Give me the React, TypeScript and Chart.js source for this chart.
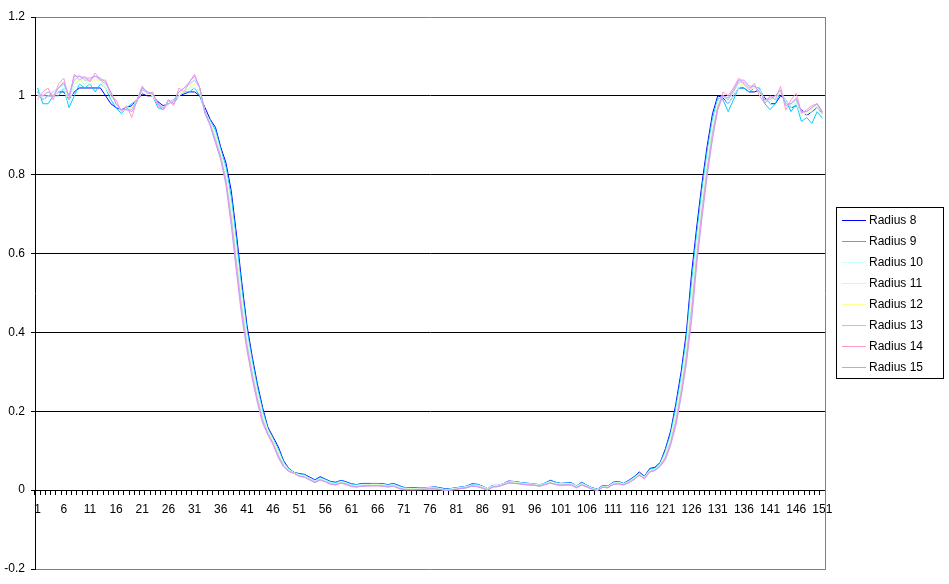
import React, { useEffect, useRef } from 'react';
import { Chart, registerables } from 'chart.js';

Chart.register(...registerables);

// Categories 1..151 (x axis), labelled every 5th
const categories: string[] = Array.from({ length: 151 }, (_, i) => String(i + 1));
const xLabelEvery = 5;

// Y axis ticks
const yMin = -0.2;
const yMax = 1.2;
const yStep = 0.2;

const seriesNames = ['Radius 8', 'Radius 9', 'Radius 10', 'Radius 11', 'Radius 12', 'Radius 13', 'Radius 14', 'Radius 15'];
const seriesColors = ['#0000FF', '#00CCFF', '#CCFFFF', '#CCFFCC', '#FFFF99', '#99CCFF', '#FF99CC', '#CC99FF'];

const radius8 = [
  1.01, 0.99, 1.00, 1.00, 1.01, 1.01, 0.99, 1.01, 1.02, 1.02,
  1.02, 1.02, 1.02, 1.00, 0.98, 0.97, 0.965, 0.97, 0.975, 0.99,
  1.005, 1.00, 1.00, 0.985, 0.975, 0.98, 0.99, 1.00, 1.005, 1.01,
  1.01, 1.00, 0.97, 0.94, 0.92, 0.87, 0.83, 0.76, 0.65, 0.53,
  0.42, 0.34, 0.27, 0.21, 0.16, 0.135, 0.11, 0.075, 0.055, 0.045,
  0.042, 0.04, 0.033, 0.026, 0.034, 0.028, 0.022, 0.02, 0.025, 0.021,
  0.016, 0.014, 0.017, 0.017, 0.017, 0.017, 0.016, 0.014, 0.017, 0.012,
  0.007, 0.006, 0.006, 0.006, 0.006, 0.007, 0.008, 0.006, 0.003, 0.004,
  0.006, 0.008, 0.01, 0.016, 0.015, 0.01, 0.004, 0.012, 0.012, 0.016,
  0.023, 0.022, 0.02, 0.018, 0.017, 0.015, 0.013, 0.018, 0.025, 0.02,
  0.017, 0.018, 0.019, 0.01, 0.02, 0.012, 0.006, 0.002, 0.012, 0.01,
  0.02, 0.022, 0.017, 0.025, 0.034, 0.046, 0.035, 0.055, 0.058, 0.07,
  0.105, 0.15, 0.22, 0.30, 0.40, 0.55, 0.67, 0.78, 0.875, 0.955,
  1.00, 0.995, 0.98, 1.00, 1.02, 1.02, 1.01, 1.01, 1.015, 0.995,
  0.98, 0.98, 1.00, 0.99, 0.97, 0.975, 0.965, 0.95, 0.96, 0.97,
  0.955,
];

const radius9 = [
  1.02, 0.98, 0.98, 1.00, 1.00, 1.02, 0.97, 1.00, 1.03, 1.02,
  1.03, 1.01, 1.03, 1.02, 0.99, 0.97, 0.955, 0.97, 0.98, 0.99,
  1.02, 1.01, 1.00, 0.97, 0.965, 0.99, 0.98, 1.00, 1.01, 1.01,
  1.02, 1.00, 0.96, 0.937, 0.913, 0.864, 0.82, 0.744, 0.632, 0.514,
  0.408, 0.33, 0.261, 0.203, 0.156, 0.131, 0.105, 0.072, 0.054, 0.045,
  0.041, 0.039, 0.031, 0.025, 0.032, 0.027, 0.021, 0.019, 0.024, 0.02,
  0.015, 0.014, 0.016, 0.016, 0.016, 0.016, 0.015, 0.013, 0.016, 0.011,
  0.007, 0.006, 0.005, 0.006, 0.006, 0.007, 0.008, 0.005, 0.002, 0.004,
  0.006, 0.008, 0.01, 0.015, 0.014, 0.01, 0.004, 0.012, 0.012, 0.016,
  0.022, 0.022, 0.02, 0.018, 0.017, 0.016, 0.014, 0.018, 0.024, 0.02,
  0.017, 0.018, 0.018, 0.011, 0.019, 0.012, 0.006, 0.002, 0.011, 0.01,
  0.019, 0.021, 0.017, 0.024, 0.033, 0.044, 0.034, 0.053, 0.056, 0.068,
  0.10, 0.143, 0.21, 0.288, 0.385, 0.528, 0.652, 0.764, 0.861, 0.943,
  0.993, 0.99, 0.96, 0.99, 1.02, 1.02, 1.01, 1.02, 1.02, 0.98,
  0.965, 0.98, 1.01, 0.99, 0.96, 0.98, 0.935, 0.945, 0.93, 0.96,
  0.943,
];

const radius10 = [
  1.01, 0.99, 1.00, 1.00, 1.01, 1.02, 0.98, 1.02, 1.03, 1.03,
  1.03, 1.03, 1.03, 1.02, 1.00, 0.98, 0.96, 0.97, 0.97, 0.99,
  1.01, 1.01, 1.00, 0.98, 0.97, 0.98, 0.99, 1.00, 1.01, 1.02,
  1.02, 1.01, 0.96, 0.934, 0.905, 0.858, 0.809, 0.727, 0.614, 0.497,
  0.396, 0.319, 0.252, 0.195, 0.153, 0.128, 0.10, 0.069, 0.052, 0.044,
  0.039, 0.037, 0.03, 0.023, 0.03, 0.025, 0.019, 0.017, 0.022, 0.018,
  0.013, 0.012, 0.014, 0.014, 0.015, 0.015, 0.014, 0.012, 0.014, 0.009,
  0.005, 0.004, 0.004, 0.005, 0.005, 0.006, 0.006, 0.004, 0.001, 0.003,
  0.005, 0.007, 0.009, 0.013, 0.013, 0.009, 0.004, 0.011, 0.012, 0.016,
  0.021, 0.021, 0.019, 0.017, 0.016, 0.015, 0.013, 0.017, 0.022, 0.018,
  0.016, 0.017, 0.017, 0.01, 0.017, 0.011, 0.005, 0.001, 0.01, 0.009,
  0.018, 0.02, 0.016, 0.022, 0.031, 0.042, 0.033, 0.05, 0.054, 0.066,
  0.095, 0.137, 0.199, 0.276, 0.37, 0.505, 0.634, 0.747, 0.847, 0.931,
  0.987, 1.00, 0.98, 1.00, 1.02, 1.03, 1.02, 1.02, 1.015, 0.99,
  0.98, 0.99, 1.01, 0.99, 0.97, 0.98, 0.95, 0.95, 0.95, 0.97,
  0.95,
];

const radius11 = [
  1.00, 1.00, 1.01, 1.00, 1.02, 1.03, 0.99, 1.03, 1.04, 1.03,
  1.04, 1.04, 1.04, 1.02, 1.00, 0.98, 0.965, 0.965, 0.97, 0.99,
  1.01, 1.01, 1.00, 0.98, 0.97, 0.98, 0.99, 1.00, 1.01, 1.02,
  1.03, 1.01, 0.96, 0.932, 0.90, 0.854, 0.802, 0.716, 0.602, 0.486,
  0.388, 0.312, 0.246, 0.19, 0.15, 0.125, 0.096, 0.067, 0.051, 0.044,
  0.038, 0.036, 0.029, 0.022, 0.029, 0.024, 0.018, 0.016, 0.021, 0.017,
  0.012, 0.011, 0.013, 0.013, 0.014, 0.014, 0.013, 0.011, 0.013, 0.008,
  0.004, 0.004, 0.003, 0.004, 0.004, 0.005, 0.005, 0.003, 0.001, 0.002,
  0.004, 0.006, 0.008, 0.012, 0.012, 0.008, 0.003, 0.01, 0.011, 0.015,
  0.02, 0.02, 0.018, 0.016, 0.015, 0.014, 0.012, 0.016, 0.021, 0.017,
  0.015, 0.016, 0.016, 0.009, 0.016, 0.01, 0.004, 0.001, 0.009, 0.008,
  0.017, 0.019, 0.015, 0.021, 0.03, 0.041, 0.032, 0.049, 0.053, 0.065,
  0.091, 0.132, 0.192, 0.268, 0.36, 0.49, 0.622, 0.736, 0.837, 0.923,
  0.982, 1.00, 0.99, 1.01, 1.03, 1.03, 1.02, 1.02, 1.015, 0.99,
  0.985, 0.995, 1.01, 0.985, 0.975, 0.985, 0.955, 0.955, 0.96, 0.975,
  0.955,
];

const radius12 = [
  1.00, 1.00, 1.01, 1.00, 1.02, 1.03, 1.00, 1.04, 1.04, 1.04,
  1.04, 1.04, 1.04, 1.03, 1.01, 0.98, 0.965, 0.96, 0.97, 0.99,
  1.01, 1.01, 1.00, 0.98, 0.97, 0.98, 0.99, 1.01, 1.01, 1.03,
  1.03, 1.01, 0.96, 0.93, 0.895, 0.85, 0.795, 0.705, 0.59, 0.475,
  0.38, 0.305, 0.24, 0.185, 0.148, 0.123, 0.093, 0.065, 0.05, 0.044,
  0.037, 0.035, 0.028, 0.021, 0.028, 0.023, 0.017, 0.015, 0.02, 0.016,
  0.011, 0.01, 0.012, 0.012, 0.013, 0.013, 0.012, 0.01, 0.012, 0.007,
  0.003, 0.003, 0.003, 0.003, 0.003, 0.004, 0.004, 0.002, 0.0, 0.002,
  0.003, 0.005, 0.007, 0.011, 0.011, 0.007, 0.002, 0.009, 0.01, 0.014,
  0.019, 0.019, 0.017, 0.015, 0.014, 0.013, 0.011, 0.015, 0.02, 0.016,
  0.014, 0.015, 0.015, 0.008, 0.015, 0.009, 0.003, 0.0, 0.008, 0.007,
  0.016, 0.018, 0.014, 0.02, 0.029, 0.04, 0.031, 0.048, 0.052, 0.064,
  0.088, 0.128, 0.185, 0.26, 0.35, 0.475, 0.61, 0.725, 0.828, 0.915,
  0.978, 1.00, 0.99, 1.01, 1.03, 1.03, 1.02, 1.02, 1.01, 0.99,
  0.99, 1.00, 1.01, 0.98, 0.98, 0.99, 0.96, 0.955, 0.965, 0.975,
  0.96,
];

const radius13 = [
  1.01, 1.00, 1.00, 1.01, 1.02, 1.03, 1.00, 1.04, 1.05, 1.04,
  1.04, 1.05, 1.04, 1.03, 1.01, 0.98, 0.965, 0.965, 0.965, 0.99,
  1.015, 1.01, 1.005, 0.98, 0.97, 0.985, 0.99, 1.01, 1.02, 1.03,
  1.04, 1.02, 0.96, 0.928, 0.89, 0.846, 0.788, 0.694, 0.578, 0.464,
  0.372, 0.298, 0.234, 0.18, 0.145, 0.12, 0.089, 0.063, 0.049, 0.043,
  0.036, 0.034, 0.027, 0.021, 0.027, 0.022, 0.017, 0.015, 0.019, 0.016,
  0.011, 0.009, 0.011, 0.012, 0.012, 0.012, 0.011, 0.01, 0.011, 0.006,
  0.003, 0.002, 0.002, 0.003, 0.003, 0.004, 0.004, 0.002, 0.0, 0.001,
  0.003, 0.005, 0.007, 0.011, 0.01, 0.006, 0.002, 0.009, 0.01, 0.014,
  0.019, 0.018, 0.017, 0.015, 0.014, 0.013, 0.011, 0.015, 0.019, 0.015,
  0.013, 0.014, 0.014, 0.008, 0.014, 0.009, 0.003, 0.0, 0.008, 0.007,
  0.015, 0.017, 0.014, 0.02, 0.028, 0.039, 0.03, 0.047, 0.051, 0.063,
  0.084, 0.123, 0.178, 0.252, 0.34, 0.46, 0.598, 0.714, 0.818, 0.907,
  0.973, 1.00, 0.99, 1.01, 1.035, 1.035, 1.02, 1.025, 1.01, 0.99,
  0.99, 1.00, 1.015, 0.98, 0.98, 0.99, 0.96, 0.96, 0.97, 0.98,
  0.96,
];

const radius14 = [
  0.99, 1.01, 1.02, 0.99, 1.03, 1.045, 0.99, 1.055, 1.04, 1.05,
  1.035, 1.058, 1.04, 1.04, 1.00, 0.99, 0.96, 0.975, 0.945, 0.99,
  1.025, 1.005, 1.01, 0.975, 0.965, 0.99, 0.975, 1.02, 1.01, 1.035,
  1.055, 1.02, 0.955, 0.926, 0.885, 0.842, 0.781, 0.683, 0.566, 0.453,
  0.364, 0.291, 0.228, 0.175, 0.143, 0.118, 0.086, 0.061, 0.048, 0.043,
  0.035, 0.033, 0.026, 0.019, 0.026, 0.021, 0.015, 0.013, 0.018, 0.014,
  0.009, 0.008, 0.01, 0.011, 0.011, 0.011, 0.01, 0.008, 0.01, 0.004,
  0.001, 0.001, 0.001, 0.002, 0.002, 0.003, 0.003, 0.001, -0.001, 0.0,
  0.002, 0.004, 0.006, 0.01, 0.009, 0.005, 0.0, 0.008, 0.009, 0.013,
  0.018, 0.017, 0.016, 0.014, 0.013, 0.012, 0.01, 0.014, 0.018, 0.014,
  0.012, 0.013, 0.013, 0.006, 0.013, 0.008, 0.002, -0.001, 0.007, 0.006,
  0.014, 0.016, 0.013, 0.019, 0.027, 0.038, 0.029, 0.046, 0.05, 0.062,
  0.081, 0.119, 0.171, 0.244, 0.33, 0.445, 0.586, 0.703, 0.809, 0.899,
  0.969, 1.01, 1.00, 1.02, 1.045, 1.03, 1.015, 1.032, 1.00, 0.98,
  1.00, 0.99, 1.024, 0.964, 0.99, 1.007, 0.956, 0.965, 0.975, 0.98,
  0.956,
];

const radius15 = [
  1.00, 1.00, 1.01, 1.00, 1.02, 1.035, 1.00, 1.05, 1.05, 1.045,
  1.045, 1.05, 1.045, 1.035, 1.01, 0.98, 0.965, 0.965, 0.96, 0.985,
  1.02, 1.01, 1.005, 0.98, 0.965, 0.98, 0.985, 1.01, 1.02, 1.035,
  1.05, 1.02, 0.955, 0.924, 0.88, 0.838, 0.774, 0.672, 0.554, 0.442,
  0.356, 0.284, 0.222, 0.17, 0.14, 0.115, 0.082, 0.059, 0.047, 0.043,
  0.035, 0.033, 0.026, 0.019, 0.026, 0.021, 0.015, 0.013, 0.018, 0.014,
  0.009, 0.008, 0.01, 0.01, 0.011, 0.011, 0.01, 0.008, 0.01, 0.005,
  0.001, 0.001, 0.001, 0.001, 0.002, 0.003, 0.003, 0.001, -0.001, 0.0,
  0.002, 0.004, 0.006, 0.01, 0.009, 0.005, 0.0, 0.008, 0.009, 0.013,
  0.018, 0.017, 0.016, 0.014, 0.013, 0.012, 0.01, 0.014, 0.018, 0.014,
  0.012, 0.013, 0.013, 0.006, 0.013, 0.008, 0.002, -0.001, 0.007, 0.006,
  0.014, 0.016, 0.013, 0.019, 0.027, 0.038, 0.029, 0.046, 0.05, 0.06,
  0.077, 0.114, 0.164, 0.236, 0.32, 0.43, 0.574, 0.692, 0.799, 0.891,
  0.964, 1.00, 0.995, 1.015, 1.04, 1.04, 1.025, 1.025, 1.01, 0.99,
  0.995, 1.00, 1.015, 0.975, 0.98, 0.995, 0.96, 0.96, 0.97, 0.98,
  0.96,
];

const seriesValues = [radius8, radius9, radius10, radius11, radius12, radius13, radius14, radius15];

const FONT = '"Liberation Sans", Arial, sans-serif';

export default function App() {
  const ref = useRef<HTMLCanvasElement>(null);

  useEffect(() => {
    const canvas = ref.current;
    if (!canvas) return;

    const plotBorder = {
      id: 'plotBorder',
      beforeDatasetsDraw(chart: any) {
        const { ctx, chartArea: a } = chart;
        ctx.save();
        ctx.strokeStyle = '#808080';
        ctx.lineWidth = 1;
        ctx.beginPath();
        ctx.moveTo(Math.round(a.right) + 0.5, Math.round(a.top));
        ctx.lineTo(Math.round(a.right) + 0.5, Math.round(a.bottom) + 1);
        ctx.stroke();
        ctx.restore();
      },
    };

    const boxLegend = {
      id: 'boxLegend',
      afterDraw(chart: any) {
        const ctx = chart.ctx;
        ctx.save();
        ctx.fillStyle = '#ffffff';
        ctx.fillRect(837, 208, 106, 170);
        ctx.strokeStyle = '#000000';
        ctx.lineWidth = 1;
        ctx.strokeRect(836.5, 207.5, 107, 171);
        ctx.font = '12px ' + FONT;
        ctx.textBaseline = 'middle';
        ctx.textAlign = 'left';
        seriesNames.forEach((name, i) => {
          const y = Math.round(220 + i * 21) + 0.5;
          ctx.strokeStyle = seriesColors[i];
          ctx.lineWidth = 1;
          ctx.beginPath();
          ctx.moveTo(842, y);
          ctx.lineTo(866, y);
          ctx.stroke();
          ctx.fillStyle = '#000000';
          ctx.fillText(name, 869, y);
        });
        ctx.restore();
      },
    };

    const isEdge = (v: number) => Math.abs(v - yMax) < 1e-6 || Math.abs(v - yMin) < 1e-6;

    const chart = new Chart(canvas, {
      type: 'line',
      data: {
        labels: categories,
        datasets: seriesNames.map((name, i) => ({
          label: name,
          data: seriesValues[i],
          borderColor: seriesColors[i],
          backgroundColor: seriesColors[i],
          borderWidth: 1,
          pointRadius: 0,
          pointHoverRadius: 0,
          tension: 0,
          fill: false,
          order: -i,
        })),
      },
      options: {
        responsive: false,
        devicePixelRatio: 1,
        animation: false,
        events: [],
        layout: { padding: { left: 0, top: 17, right: 124, bottom: 15 } },
        plugins: {
          legend: { display: false },
          tooltip: { enabled: false },
          title: { display: false },
        },
        scales: {
          x: {
            type: 'category',
            offset: true,
            position: { y: 0 } as any,
            grid: {
              display: true,
              drawOnChartArea: false,
              drawTicks: true,
              tickLength: 4,
              color: '#000000',
              offset: true,
            },
            border: { display: true, color: '#000000', width: 1 },
            ticks: {
              autoSkip: false,
              maxRotation: 0,
              minRotation: 0,
              padding: 8,
              color: '#000000',
              font: { family: FONT, size: 12 },
              callback: (_v: any, idx: number) => (idx % xLabelEvery === 0 ? categories[idx] : ''),
            },
          },
          y: {
            type: 'linear',
            position: 'left',
            min: yMin,
            max: yMax,
            afterFit: (scale: any) => {
              scale.width = 35;
            },
            grid: {
              display: true,
              drawOnChartArea: true,
              drawTicks: true,
              tickLength: 4,
              tickColor: '#000000',
              color: (c: any) => (c.tick && isEdge(c.tick.value) ? '#808080' : '#000000'),
            },
            border: { display: true, color: '#000000', width: 1 },
            ticks: {
              stepSize: yStep,
              padding: 6,
              color: '#000000',
              font: { family: FONT, size: 12 },
              callback: (v: any) => String(Math.round(Number(v) * 10) / 10),
            },
          },
        },
      },
      plugins: [plotBorder, boxLegend],
    });

    return () => chart.destroy();
  }, []);

  return (
    <div style={{ position: 'fixed', left: 0, top: 0, width: 949, height: 584, background: '#ffffff' }}>
      <canvas ref={ref} width={949} height={584} style={{ display: 'block', width: 949, height: 584 }} />
    </div>
  );
}
